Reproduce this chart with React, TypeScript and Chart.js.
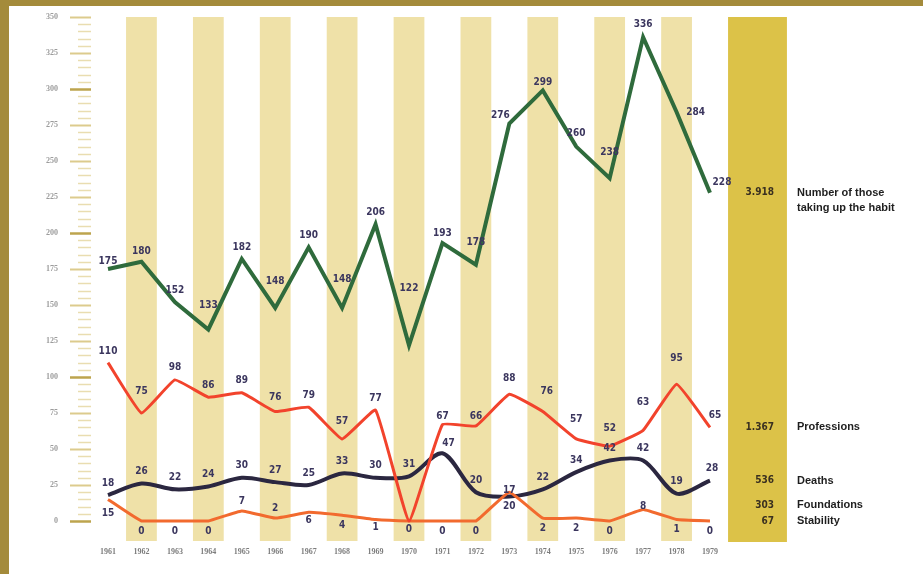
import React, { useEffect, useRef } from "react";
import { Chart, registerables } from "chart.js";

Chart.register(...registerables);

const years = ["1961", "1962", "1963", "1964", "1965", "1966", "1967", "1968", "1969", "1970", "1971", "1972", "1973", "1974", "1975", "1976", "1977", "1978", "1979"];
const habit = [175, 180, 152, 133, 182, 148, 190, 148, 206, 122, 193, 178, 276, 299, 260, 238, 336, 284, 228];
const professions = [110, 75, 98, 86, 89, 76, 79, 57, 77, 0, 67, 66, 88, 76, 57, 52, 63, 95, 65];
const deaths = [18, 26, 22, 24, 30, 27, 25, 33, 30, 31, 47, 20, 17, 22, 34, 42, 42, 19, 28];
const stability = [15, 0, 0, 0, 7, 2, 6, 4, 1, 0, 0, 0, 20, 2, 2, 0, 8, 1, 0];
const yTickValues = [0, 25, 50, 75, 100, 125, 150, 175, 200, 225, 250, 275, 300, 325, 350];

const seriesLabels = [["Number of those", "taking up the habit"], ["Professions"], ["Deaths"], ["Foundations"], ["Stability"]];
const seriesTotals = ["3.918", "1.367", "536", "303", "67"];
const totalsAnchor = [228, 65, 28, 11, 0];

// label offsets (style only)
const habitDy = [-8, -10, -12, -24, -12, -26, -12, -28, -12, -57, -10, -22, -8, -8, -13, -26, -13, 0, -10];
const habitDx = [0, 0, 0, 0, 0, 0, 0, 0, 0, 0, 0, 0, -9, 0, 0, 0, 0, 19, 12];
const profDy = [-11, -22, -12, -12, -12, -14, -12, -18, -12, 0, -8, -10, -16, -20, -20, -18, -28, -26, -12];
const profDx = [0, 0, 0, 0, 0, 0, 0, 0, 0, 0, 0, 0, 0, 4, 0, 0, 0, 0, 5];
const deathsDy = [-12, -12, -12, -12, -12, -12, -12, -12, -12, -12, -10, -12, -6, -12, -12, -12, -12, -12, -12];
const deathsDx = [0, 0, 0, 0, 0, 0, 0, 0, 0, 0, 6, 0, 0, 0, 0, 0, 0, 0, 2];
const stabDy = [14, 10, 10, 10, -10, -10, 8, 10, 8, 8, 10, 10, 14, 10, 10, 10, -3, 10, 10];

const LABEL_COLOR = "#3b365e";

const decorPlugin = {
  id: "decor",
  beforeDatasetsDraw(chart: any) {
    const { ctx, width, height } = chart;
    const xs = chart.scales.x;
    const ys = chart.scales.y;
    ctx.save();
    ctx.fillStyle = "#ffffff";
    ctx.fillRect(0, 0, width, height);
    ctx.fillStyle = "#a48b3b";
    ctx.fillRect(0, 0, width, 6);
    ctx.fillRect(0, 0, 9, height);

    const step = xs.getPixelForValue(1) - xs.getPixelForValue(0);
    const top = ys.getPixelForValue(350);
    const bottom = ys.getPixelForValue(0) + 20;
    years.forEach((_, i) => {
      if (i % 2 === 1) {
        const cx = xs.getPixelForValue(i);
        ctx.fillStyle = "#efe1a8";
        ctx.fillRect(cx - step * 0.46, top, step * 0.92, bottom - top);
      }
    });
    const lastX = xs.getPixelForValue(years.length - 1);
    ctx.fillStyle = "#dcc248";
    ctx.fillRect(lastX + step * 0.54, top, step * 1.76, bottom - top + 1);

    // y ticks
    for (let v = 0; v <= 350; v += 5) {
      const py = Math.round(ys.getPixelForValue(v)) + 0.5;
      ctx.beginPath();
      if (v % 25 === 0) {
        ctx.strokeStyle = v % 100 === 0 ? "#bda44e" : "#dccb8d";
        ctx.lineWidth = v % 100 === 0 ? 2.5 : 2;
        ctx.moveTo(70, py);
        ctx.lineTo(91, py);
      } else {
        ctx.strokeStyle = "#e9ddb0";
        ctx.lineWidth = 1.5;
        ctx.moveTo(78, py);
        ctx.lineTo(91, py);
      }
      ctx.stroke();
    }
    ctx.fillStyle = "#9c9c9c";
    ctx.font = "bold 8px 'Liberation Serif', serif";
    ctx.textAlign = "right";
    ctx.textBaseline = "middle";
    yTickValues.forEach((v) => {
      ctx.fillText(String(v), 58, ys.getPixelForValue(v));
    });
    ctx.fillStyle = "#7d7d7d";
    ctx.textAlign = "center";
    years.forEach((yr, i) => {
      ctx.fillText(yr, xs.getPixelForValue(i), 552);
    });
    ctx.restore();
  },
  afterDatasetsDraw(chart: any) {
    const { ctx } = chart;
    const xs = chart.scales.x;
    const ys = chart.scales.y;
    ctx.save();
    ctx.font = "bold 10px 'Liberation Sans Narrow', 'DejaVu Sans Condensed', sans-serif";
    ctx.fillStyle = LABEL_COLOR;
    ctx.textAlign = "center";
    ctx.textBaseline = "middle";
    const draw = (vals: number[], dy: number[], dx: number[] | null, skip: number[] = []) => {
      vals.forEach((v, i) => {
        if (skip.includes(i)) return;
        const px = xs.getPixelForValue(i) + (dx ? dx[i] : 0);
        const py = ys.getPixelForValue(v) + dy[i];
        ctx.fillText(String(v), px, py);
      });
    };
    draw(habit, habitDy, habitDx);
    draw(professions, profDy, profDx, [9]);
    draw(deaths, deathsDy, deathsDx);
    draw(stability, stabDy, null);

    // totals
    ctx.textAlign = "right";
    ctx.fillStyle = "#3a3020";
    seriesTotals.forEach((t, i) => {
      ctx.fillText(t, 774, ys.getPixelForValue(totalsAnchor[i]));
    });
    ctx.textAlign = "left";
    ctx.fillStyle = "#1e1e1e";
    ctx.font = "bold 11px 'Liberation Sans', Arial, sans-serif";
    seriesLabels.forEach((lines, i) => {
      const py = ys.getPixelForValue(totalsAnchor[i]);
      lines.forEach((ln, j) => ctx.fillText(ln, 797, py + j * 15));
    });
    ctx.restore();
  },
};

export default function App() {
  const ref = useRef<HTMLCanvasElement>(null);
  useEffect(() => {
    document.body.style.margin = "0";
    const chart = new Chart(ref.current as HTMLCanvasElement, {
      type: "line",
      data: {
        labels: years,
        datasets: [
          { label: "Number of those taking up the habit", data: habit, borderColor: "#2f6b3c", borderWidth: 4, tension: 0, pointRadius: 0, order: 1, clip: false as any },
          { label: "Professions", data: professions, borderColor: "#f2432c", borderWidth: 3, tension: 0.1, pointRadius: 0, order: 2, clip: false as any },
          { label: "Stability", data: stability, borderColor: "#f26a2e", borderWidth: 3, tension: 0.1, pointRadius: 0, order: 3, clip: false as any },
          { label: "Deaths", data: deaths, borderColor: "#2b2740", borderWidth: 4, tension: 0.3, pointRadius: 0, order: 4, clip: false as any },
        ],
      },
      options: {
        responsive: false,
        animation: false,
        layout: { padding: { left: 108, right: 213, top: 17, bottom: 53 } },
        plugins: { legend: { display: false }, tooltip: { enabled: false } },
        scales: {
          x: { display: false, offset: false },
          y: { display: false, min: 0, max: 350 },
        },
      },
      plugins: [decorPlugin],
    });
    return () => chart.destroy();
  }, []);
  return (
    <div style={{ width: 923, height: 574 }}>
      <canvas ref={ref} width={923} height={574} />
    </div>
  );
}
